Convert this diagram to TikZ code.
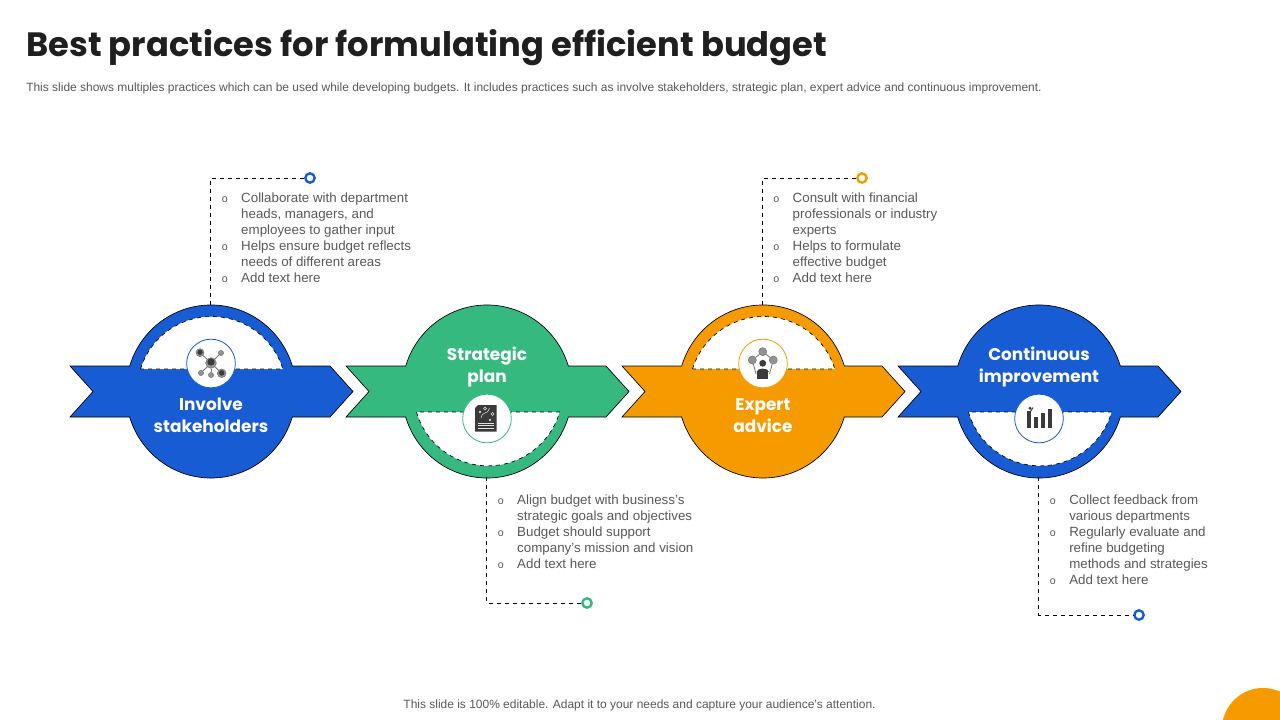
\documentclass[tikz,border=0pt]{standalone}
\usepackage{fontspec}
\setmainfont{Liberation Sans}
\newfontfamily\headfont{Poppins}
\usepackage{xcolor}

\definecolor{bandblue}{HTML}{175CD3}
\definecolor{bandgreen}{HTML}{36B97F}
\definecolor{bandorange}{HTML}{F59B00}
\definecolor{bodygray}{HTML}{595959}
\definecolor{icondark}{HTML}{3A3A3A}

\newcommand{\listmark}{{\fontsize{8}{12}\selectfont o}}

\begin{document}
\begin{tikzpicture}[
            x = 0.75pt, y = -0.75pt, % slide pixels
            band/.style = {draw=black, line width=0.5pt},
            hollow/.style = {fill=white, draw=black, dashed, line width=0.5pt},
            leader/.style = {draw=black, dashed, line width=0.6pt},
            iconring/.style = {shape=circle, fill=white, line width=0.6pt, minimum size=36.5pt, inner sep=0pt},
            ringdot/.style = {shape=circle, fill=white, line width=1.8pt, minimum size=7pt, inner sep=0pt},
            steptext/.style = {text=white, font=\headfont\bfseries\fontsize{12.7}{16.5}\selectfont, align=center},
            bullets/.style = {anchor=north west, inner sep=0pt, text=bodygray, font=\fontsize{10}{12}\selectfont},
            peer/.style = {shape=circle, fill=icondark!55, draw=icondark!70, line width=0.4pt, inner sep=0pt},
            link/.style = {draw=icondark!70, line width=0.6pt}
        ]
\useasboundingbox (0,0) rectangle (1280,720);
\fill[white] (0,0) rectangle (1280,720);

% heading
\node[anchor=west, inner sep=0pt, text=black!88, font=\headfont\bfseries\fontsize{25.3}{30}\selectfont] (title) at (26,47.5) {Best practices for formulating efficient budget};
\node[anchor=west, inner sep=0pt, text=bodygray, font=\fontsize{8.98}{11}\selectfont] (intro) at (26,88.4) {This slide shows multiples practices which can be used while developing budgets. It includes practices such as involve stakeholders, strategic plan, expert advice and continuous improvement.};

% bands
\path[band, fill=bandblue] (70,366) -- (129.7,366) arc[start angle=196.9, end angle=343.1, x radius=85, y radius=86] -- (330,366) -- (353,391.5) -- (330,417) -- (292.3,417) arc[start angle=16.9, end angle=163.1, x radius=85, y radius=86] -- (70,417) -- (93,391.5) -- cycle;
\path[band, fill=bandgreen] (346,366) -- (405.7,366) arc[start angle=196.9, end angle=343.1, x radius=85, y radius=86] -- (606,366) -- (629,391.5) -- (606,417) -- (568.3,417) arc[start angle=16.9, end angle=163.1, x radius=85, y radius=86] -- (346,417) -- (369,391.5) -- cycle;
\path[band, fill=bandorange] (622,366) -- (681.7,366) arc[start angle=196.9, end angle=343.1, x radius=85, y radius=86] -- (882,366) -- (905,391.5) -- (882,417) -- (844.3,417) arc[start angle=16.9, end angle=163.1, x radius=85, y radius=86] -- (622,417) -- (645,391.5) -- cycle;
\path[band, fill=bandblue] (898,366) -- (957.7,366) arc[start angle=196.9, end angle=343.1, x radius=85, y radius=86] -- (1158,366) -- (1181,391.5) -- (1158,417) -- (1120.3,417) arc[start angle=16.9, end angle=163.1, x radius=85, y radius=86] -- (898,417) -- (921,391.5) -- cycle;

% white cut-outs
\path[hollow] (140.5,369) arc[start angle=197.2, end angle=342.8, radius=74.5] -- cycle;
\path[hollow] (416.5,412) arc[start angle=163.9, end angle=16.1, radius=74.5] -- cycle;
\path[hollow] (692.5,369) arc[start angle=197.2, end angle=342.8, radius=74.5] -- cycle;
\path[hollow] (968.5,412) arc[start angle=163.9, end angle=16.1, radius=74.5] -- cycle;

% icon rings
\node[iconring, draw=bandblue] (ring1) at (211,363.5) {};
\node[iconring, draw=bandgreen] (ring2) at (487,418.5) {};
\node[iconring, draw=bandorange] (ring3) at (763,363.5) {};
\node[iconring, draw=bandblue] (ring4) at (1039,418.5) {};

% step labels
\node[steptext] (label1) at (211,415.5) {Involve\\stakeholders};
\node[steptext] (label2) at (487,367) {Strategic\\plan};
\node[steptext] (label3) at (763,415.5) {Expert\\advice};
\node[steptext] (label4) at (1039,367) {Continuous\\improvement};

% leaders
\node[ringdot, draw=bandblue] (dot1) at (310,178) {};
\node[ringdot, draw=bandgreen] (dot2) at (587,603) {};
\node[ringdot, draw=bandorange] (dot3) at (862,178) {};
\node[ringdot, draw=bandblue] (dot4) at (1139,615) {};
\coordinate (top1) at (210.5,305);
\coordinate (bot2) at (486.5,477);
\coordinate (top3) at (762.5,305);
\coordinate (bot4) at (1038.5,477);
\path[leader] (top1) |- (dot1);
\path[leader] (bot2) |- (dot2);
\path[leader] (top3) |- (dot3);
\path[leader] (bot4) |- (dot4);

% lists
\node[bullets] (list1) at (221.5,191.2) {\begin{tabular}{@{}p{14.6pt}@{}l@{}}
\listmark & Collaborate with department\\
 & heads, managers, and\\
 & employees to gather input\\
\listmark & Helps ensure budget reflects\\
 & needs of different areas\\
\listmark & Add text here
\end{tabular}};
\node[bullets] (list2) at (497.5,493.2) {\begin{tabular}{@{}p{14.6pt}@{}l@{}}
\listmark & Align budget with business's\\
 & strategic goals and objectives\\
\listmark & Budget should support\\
 & company's mission and vision\\
\listmark & Add text here
\end{tabular}};
\node[bullets] (list3) at (773,191.2) {\begin{tabular}{@{}p{14.6pt}@{}l@{}}
\listmark & Consult with financial\\
 & professionals or industry\\
 & experts\\
\listmark & Helps to formulate\\
 & effective budget\\
\listmark & Add text here
\end{tabular}};
\node[bullets] (list4) at (1049.5,493.2) {\begin{tabular}{@{}p{14.6pt}@{}l@{}}
\listmark & Collect feedback from\\
 & various departments\\
\listmark & Regularly evaluate and\\
 & refine budgeting\\
 & methods and strategies\\
\listmark & Add text here
\end{tabular}};

% network icon
\node[peer, minimum size=8pt] (hub) at (211,363) {};
\node[peer, minimum size=6pt] (peerA) at (200,352.7) {};
\node[peer, minimum size=3.8pt] (peerB) at (221,353) {};
\node[peer, minimum size=3.8pt] (peerC) at (201,373) {};
\node[peer, minimum size=3.8pt] (peerD) at (211,375) {};
\node[peer, minimum size=6.5pt] (peerE) at (221.7,373.3) {};
\path[link] (hub) -- (peerA);
\path[link] (hub) -- (peerB);
\path[link] (hub) -- (peerC);
\path[link] (hub) -- (peerD);
\path[link] (hub) -- (peerE);
\fill[icondark] (hub.center) ++(0,-1) circle (3.6);
\fill[icondark] (peerA.center) ++(0,-0.4) circle (2.6);
\fill[icondark] (peerE.center) ++(0,-0.4) circle (2.8);

% plan icon
\fill[icondark] (478,405) -- (496.7,405) -- (496.7,431.7) -- (475,431.7) -- (475,408) -- cycle;
\draw[white!85!icondark, line width=0.3pt] (478,423) -- (494,423) (478,425.5) -- (494,425.5) (478,428) -- (494,428);
\draw[white!85!icondark, line width=0.4pt] (481,418) .. controls (483,410) and (487,416) .. (489.5,408);
\draw[white!85!icondark, line width=0.4pt] (485,408.5) circle (1.6) (492.5,414) circle (1.6) (480,412) circle (1) (489,419) -- (491,421) (491,419) -- (489,421);

% expert icon
\node[peer, minimum size=6pt] (topic) at (762.7,351.7) {};
\node[peer, minimum size=6pt] (topicL) at (752.3,360) {};
\node[peer, minimum size=6pt] (topicR) at (773.3,360) {};
\coordinate (baseL) at (756,374);
\coordinate (baseR) at (769.5,374);
\path[link] (topic) -- (topicL);
\path[link] (topic) -- (topicR);
\path[link] (topicL) -- (baseL);
\path[link] (topicR) -- (baseR);
\fill[icondark] (762.7,363.3) circle (3.4);
\fill[icondark] (756.5,372) .. controls (757,367.5) and (768.5,367.5) .. (769,372) -- cycle;
\fill[icondark] (757.3,371.7) rectangle (768.3,379);

% chart icon
\fill[icondark] (1026.7,421.7) rectangle (1030.7,428.3);
\fill[icondark] (1033.7,416.7) rectangle (1037.7,428.3);
\fill[icondark] (1040.7,412.7) rectangle (1044.7,428.3);
\fill[icondark] (1047.7,408.7) rectangle (1052,428.3);
\fill[icondark] (1030,408.3) circle (1.6);
\fill[icondark] (1027.2,411) rectangle (1031,421.7);
\draw[icondark, line width=0.7pt] (1030.5,411.5) -- (1033,407.5);

% footer
\node[inner sep=0pt, text=bodygray, font=\fontsize{8.98}{11}\selectfont] (footer) at (639.5,705.5) {This slide is 100\% editable. Adapt it to your needs and capture your audience's attention.};
\begin{scope}
\clip (0,0) rectangle (1280,720);
\fill[bandorange] (1263,729) circle (41);
\end{scope}
\end{tikzpicture}
\end{document}
